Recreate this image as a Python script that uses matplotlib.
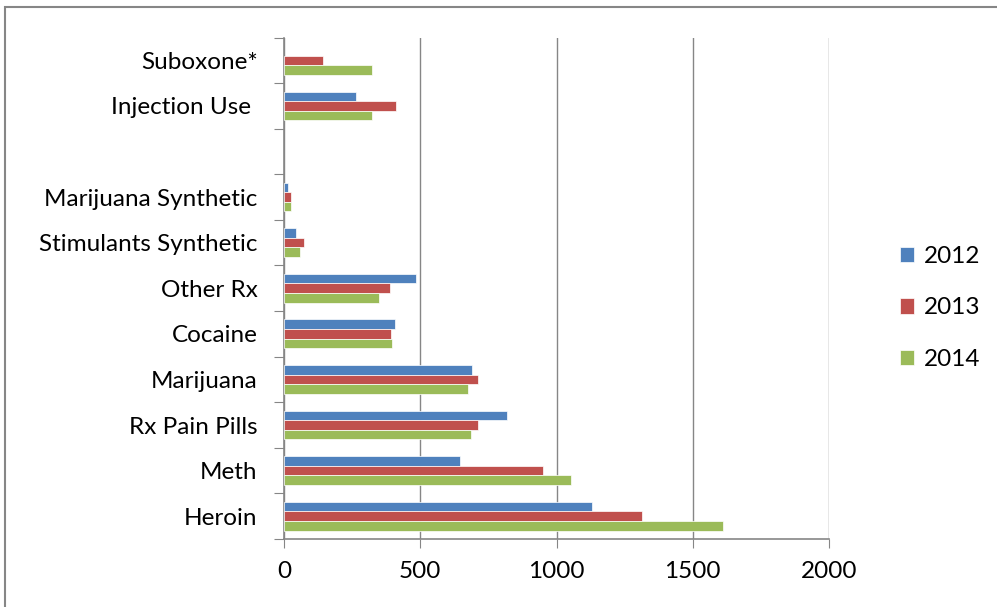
import numpy as np
import matplotlib.pyplot as plt
from matplotlib.patches import Rectangle

# categories listed bottom to top; the empty one is a spacer row
categories = ["Heroin", "Meth", "Rx Pain Pills", "Marijuana", "Cocaine",
              "Other Rx", "Stimulants Synthetic", "Marijuana Synthetic",
              "", "Injection Use ", "Suboxone*"]
years = ["2012", "2013", "2014"]
vals_2012 = [1130, 646, 818, 691, 407, 486, 44, 16, 0, 265, 0]
vals_2013 = [1313, 951, 711, 711, 393, 388, 75, 27, 0, 412, 143]
vals_2014 = [1611, 1053, 686, 677, 398, 349, 60, 27, 0, 324, 324]
colors = ["#4F81BD", "#C0504D", "#9BBB59"]

plt.rcParams['font.family'] = ['Lato', 'DejaVu Sans']
fs = 17.5

fig = plt.figure(figsize=(9.97, 6.07), dpi=100)
ax = fig.add_axes([284 / 997, 1 - 539 / 607, 545 / 997, (539 - 37.5) / 607])

y = np.arange(len(categories))
h = 0.21
for i, (vals, c, lab) in enumerate(zip([vals_2012, vals_2013, vals_2014], colors, years)):
    lw = [0.5 if v > 0 else 0 for v in vals]
    ax.barh(y + (1 - i) * h, vals, height=h, color=c, label=lab,
            edgecolor="white", linewidth=lw, zorder=3)

ax.set_xlim(0, 2000)
ax.set_ylim(-0.5, len(categories) - 0.5)
ax.set_xticks([0, 500, 1000, 1500, 2000])
ax.tick_params(axis="x", labelsize=fs, length=6.5, color="#868686", pad=9)

# tick marks between categories, labels centered on each category
ax.set_yticks(np.arange(-0.5, len(categories)))
ax.set_yticklabels([])
ax.set_yticks(y, minor=True)
ax.set_yticklabels(categories, minor=True, fontsize=fs)
ax.tick_params(axis="y", which="major", length=7, color="#868686")
ax.tick_params(axis="y", which="minor", length=0, pad=19)

ax.grid(axis="x", color="#868686", linewidth=1, zorder=0)
for s in ["top", "right"]:
    ax.spines[s].set_visible(False)
for s in ["left", "bottom"]:
    ax.spines[s].set_color("#868686")
    ax.spines[s].set_linewidth(1.2)

ax.legend(loc="center left", bbox_to_anchor=(878 / 997, 1 - 308 / 607),
          bbox_transform=fig.transFigure,
          frameon=False, fontsize=fs, handlelength=0.6, handleheight=0.6,
          handletextpad=0.4, labelspacing=1.25)

# outer chart frame
fig.patches.append(Rectangle((5 / 997, -0.05), 1.1, 1.05 - 7 / 607,
                             transform=fig.transFigure, fill=False,
                             edgecolor="#868686", linewidth=1.5))

fig.savefig("out.png", dpi=100)
